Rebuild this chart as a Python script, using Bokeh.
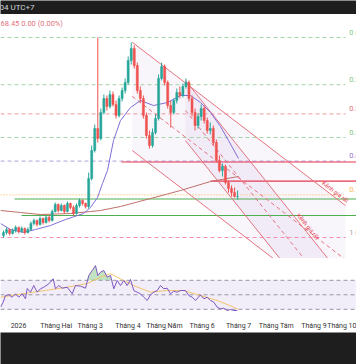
from bokeh.plotting import figure
from bokeh.layouts import column
from bokeh.models import Range1d, Label, FixedTicker, ColumnDataSource
from bokeh.embed import file_html
from bokeh.resources import INLINE
from bokeh.core.properties import value

# ---------------- data ----------------
# bar times in days from 1 Jan 2026 (one bar every 2.5 days)
bar_start = -12.3
bar_step = 2.5
opens = [48.95, 50.45, 51.95, 49.95, 51.45, 52.95, 50.95, 52.45, 50.45, 51.95,
         54.95, 56.45, 54.45, 57.45, 55.45, 57.95, 56.45, 60.95, 64.45, 61.45,
         63.95, 60.95, 64.95, 62.95, 59.95, 63.95, 66.45, 64.95, 63.45, 77.45,
         91.45, 102.45, 97.45, 110.45, 117.45, 113.45, 119.45, 114.45, 108.95, 117.45,
         121.45, 125.45, 136.45, 142.45, 133.95, 121.45, 117.45, 108.95, 98.95, 93.95,
         100.45, 107.45, 127.45, 133.45, 125.45, 113.95, 110.45, 116.45, 120.45, 118.95,
         123.45, 125.45, 117.45, 110.45, 103.95, 108.45, 112.45, 106.45, 101.45, 102.45,
         95.45, 86.45, 81.45, 83.45, 75.45, 72.45, 70.45, 68.45]
highs = [51.45, 52.95, 52.45, 52.45, 53.95, 53.45, 53.45, 52.95, 52.95, 55.95,
         57.45, 56.95, 58.45, 57.95, 58.95, 58.95, 61.95, 65.45, 64.95, 64.95,
         64.45, 65.95, 65.45, 63.95, 64.95, 67.45, 66.95, 65.45, 80.45, 93.95,
         104.45, 147.95, 112.45, 119.45, 118.95, 121.45, 120.95, 116.45, 118.95, 122.95,
         127.45, 138.45, 145.45, 143.95, 135.45, 123.45, 118.95, 110.45, 101.45, 102.45,
         109.45, 129.45, 135.45, 134.45, 126.45, 116.45, 117.45, 122.45, 123.45, 124.95,
         127.45, 126.45, 118.95, 112.45, 109.95, 114.45, 113.95, 107.95, 105.45, 103.95,
         96.95, 88.95, 84.95, 84.45, 76.45, 73.95, 72.95, 71.45]
lows = [47.95, 49.45, 48.95, 49.45, 50.45, 49.95, 50.45, 49.45, 49.95, 51.45,
        53.95, 53.45, 53.95, 54.45, 54.95, 55.45, 55.95, 60.45, 60.45, 60.95,
        59.95, 60.45, 61.95, 58.95, 59.45, 62.95, 63.95, 62.45, 62.45, 76.45,
        90.45, 95.45, 96.45, 109.45, 111.45, 112.45, 113.45, 107.45, 107.95, 115.95,
        119.95, 124.45, 134.45, 132.45, 119.95, 115.45, 107.45, 97.45, 92.45, 92.95,
        99.45, 106.45, 126.45, 123.95, 112.45, 102.95, 109.45, 114.95, 117.45, 117.95,
        122.45, 115.95, 108.45, 101.45, 102.45, 106.45, 104.95, 99.95, 99.45, 93.95,
        85.45, 80.45, 78.45, 74.45, 70.45, 68.45, 67.95, 66.95]
closes = [50.45, 51.95, 49.95, 51.45, 52.95, 50.95, 52.45, 50.45, 51.95, 54.95,
          56.45, 54.45, 57.45, 55.45, 57.95, 56.45, 60.95, 64.45, 61.45, 63.95,
          60.95, 64.95, 62.95, 59.95, 63.95, 66.45, 64.95, 63.45, 77.45, 91.45,
          102.45, 97.45, 110.45, 117.45, 113.45, 119.45, 114.45, 108.95, 117.45, 121.45,
          125.45, 136.45, 142.45, 133.95, 121.45, 117.45, 108.95, 98.95, 93.95, 100.45,
          107.45, 127.45, 133.45, 125.45, 113.95, 110.45, 116.45, 120.45, 118.95, 123.45,
          125.45, 117.45, 110.45, 103.95, 108.45, 112.45, 106.45, 101.45, 102.45, 95.45,
          86.45, 81.45, 83.45, 75.45, 72.45, 70.45, 68.45, 68.45]

# moving averages drawn on price
ma_fast_day = [-14.8, -6.58, 4.11, 13.98, 26.32, 38.65, 53.45, 59.21, 64.97, 69.08,
               73.19, 78.13, 83.88, 92.11, 100.33, 111.02, 122.53, 133.22, 141.45,
               149.67, 157.89, 166.12, 172.70, 180.92]
ma_fast = [54.95, 51.95, 50.45, 51.95, 53.95, 56.95, 59.95, 62.95, 67.95, 74.95,
           81.45, 96.45, 106.45, 112.95, 116.45, 113.95, 115.45, 118.95, 118.95,
           115.45, 110.45, 103.45, 96.45, 87.45]
ma_slow_day = [-14.8, 1.64, 18.09, 42.76, 59.21, 67.43, 83.88, 108.55, 133.22, 157.89, 180.92]
ma_slow = [61.45, 60.45, 59.45, 59.95, 60.95, 61.45, 63.45, 67.45, 71.45, 75.95, 78.45]

# Fibonacci retracement between swing high and swing low
fib_high = 147.95
fib_low = 47.95
fib_ratios = [0, 0.236, 0.382, 0.5, 0.618, 0.786, 1]
fib_names = ["0", "0.236", "0.382", "0.5", "0.618", "0.786", "1"]

# horizontal levels: (price, start day)
red_levels = [85.7, 76.1]
red_starts = [84.7, 157.9]
green_levels = [67.2, 58.95]
green_starts = [-3.3, 2.5]

# descending channel from the April top: upper edge, lower edge
chan_day = [93.5, 268.9]
chan_upper = [145.6, 63.95]
chan_lower = [91.45, 9.8]

# steeper channel from the June top
chan2_day = [137.3, 268.9]
chan2_upper = [126.45, 26.45]
chan2_lower = [96.45, -3.55]

# RSI
rsi_day = [-14.8, -12.58, -10.69, -7.98, -5.18, -2.47, 0.25, 3.04, 5.76, 7.15,
           9.87, 12.58, 15.38, 18.09, 20.81, 24.92, 28.54, 30.43, 33.14, 35.94,
           40.05, 44.16, 46.88, 50.99, 55.10, 57.81, 60.61, 63.32, 65.21, 67.43,
           70.15, 72.94, 75.66, 78.37, 81.17, 83.88, 86.60, 89.39, 92.11, 94.82,
           97.62, 100.33, 103.04, 105.84, 108.55, 111.27, 114.06, 116.78, 119.49, 122.29,
           125.0, 127.71, 130.51, 133.22, 137.34, 140.05, 142.85, 145.56, 149.67, 152.39,
           155.18, 157.89, 160.61, 163.40, 166.12, 168.83, 171.63, 174.34, 177.06, 179.85]
rsi = [32.9, 39.8, 49.0, 50.0, 46.7, 51.4, 46.7, 51.4, 44.5, 58.7,
       53.6, 62.8, 53.6, 58.3, 60.5, 65.2, 72.1, 58.3, 62.8, 59.1,
       60.5, 51.4, 62.8, 61.9, 59.1, 76.6, 83.5, 90.4, 76.6, 81.2,
       83.5, 74.3, 76.6, 58.3, 69.7, 62.8, 69.7, 62.8, 71.1, 55.9,
       53.6, 51.4, 46.7, 42.1, 50.0, 53.6, 55.9, 62.8, 58.3, 59.1,
       51.4, 55.0, 53.6, 55.9, 55.9, 49.0, 46.7, 42.1, 50.0, 44.5,
       46.7, 42.1, 39.8, 32.9, 30.7, 31.5, 28.3, 29.7, 28.3, 28.3]
rsi_ma_day = [-14.8, 12.34, 40.05, 56.50, 67.43, 75.66, 83.88, 94.57, 108.55,
              122.29, 135.94, 149.67, 163.40, 177.06, 180.92]
rsi_ma = [46.7, 53.6, 60.5, 65.6, 74.3, 79.0, 72.1, 62.8, 53.6, 55.9, 55.9, 49.0,
          42.1, 32.9, 29.7]

month_ticks = [0, 31, 59, 90, 120, 151, 181, 212, 243, 273]
month_labels = ["2026", "Tháng Hai", "Tháng 3", "Tháng 4", "Tháng Năm", "Tháng 6",
                "Tháng 7", "Tháng Tám", "Tháng 9", "Tháng 10"]

last_close = closes[-1]
prev_close = closes[-2]

# ---------------- styling ----------------
FONT = "Roboto"
DARK = "#1e1e1e"
UP = "#26a69a"
DOWN = "#ef5350"
DRAW = "#e57380"
X0, X1 = -14.8, 277.96
FIB_END = 268.9

fib_line_colors = ["#a5d6a7", "#a5d6a7", "#ef9a9a", "#a5d6a7", "#b39ddb", "#ffcc80", "#f48fb1"]
fib_text_colors = ["#81c784", "#81c784", "#e57373", "#81c784", "#9575cd", "#ffb74d", "#9e9e9e"]
fib_dash = ["4 3", "4 3", "4 3", "4 3", "4 3", "1 2", "4 3"]


def bare(fig):
    fig.grid.visible = False
    fig.outline_line_color = None
    fig.min_border = 0
    return fig


def mid(a, b):
    return [(u + v) / 2 for u, v in zip(a, b)]


# ---- top bar ----
top = bare(figure(width=356, height=14, x_range=Range1d(0, 1), y_range=Range1d(0, 1),
                  output_backend="svg", toolbar_location=None,
                  x_axis_location=None, y_axis_location=None,
                  background_fill_color=DARK, border_fill_color=DARK))
top.add_layout(Label(x=-1, y=7, x_units="screen", y_units="screen", text="04 UTC+7",
                     text_baseline="middle", text_color="#d1d4dc", text_font_size="8px",
                     text_font=FONT))

# ---- price panel ----
main = bare(figure(width=356, height=244, x_range=Range1d(X0, X1),
                   y_range=Range1d(37.45, 159.45), output_backend="svg",
                   toolbar_location=None, x_axis_location=None, y_axis_location=None,
                   background_fill_color="white", border_fill_color="white"))

# channel fills (clipped by the panel bottom)
for d, up, lo in ((chan_day, chan_upper, chan_lower), (chan2_day, chan2_upper, chan2_lower)):
    main.patch(x=[d[0], d[1], d[1], d[0]], y=[up[0], up[1], lo[1], lo[0]],
               fill_color="#9575cd", fill_alpha=0.07, line_color=None)

# fibonacci levels
for r, name, lc, tc, dash in zip(fib_ratios, fib_names, fib_line_colors, fib_text_colors, fib_dash):
    lvl = fib_high - r * (fib_high - fib_low)
    w = 1.6 if dash == "1 2" else 1
    main.segment(x0=X0, y0=lvl, x1=FIB_END, y1=lvl, line_color=lc, line_width=w, line_dash=dash)
    main.text(x=[FIB_END + 3], y=[lvl], text=[f"{name} ({lvl:.2f})"], text_color=tc,
              text_font=value(FONT), text_font_size="7.5px", text_baseline="bottom",
              y_offset=-1)

# horizontal support / resistance
for lvl, s in zip(red_levels, red_starts):
    main.segment(x0=s, y0=lvl, x1=X1, y1=lvl, line_color="#e53950", line_width=1.2)
for lvl, s in zip(green_levels, green_starts):
    main.segment(x0=s, y0=lvl, x1=X1, y1=lvl, line_color="#4caf50", line_width=1.2)

# channel edges and dashed middles
for d, up, lo in ((chan_day, chan_upper, chan_lower), (chan2_day, chan2_upper, chan2_lower)):
    main.line(d, up, line_color=DRAW, line_width=1)
    main.line(d, lo, line_color=DRAW, line_width=1)
    main.line(d, mid(up, lo), line_color=DRAW, line_width=1, line_dash="4 3")

# moving averages
main.line(ma_slow_day, ma_slow, line_color="#c0706a", line_width=1)
main.line(ma_fast_day, ma_fast, line_color="#7e6fd8", line_width=1)

# candles
times = [bar_start + bar_step * i for i in range(len(closes))]
colors = [UP if c >= o else DOWN for o, c in zip(opens, closes)]
src = ColumnDataSource(dict(t=times, o=opens, h=highs, l=lows, c=closes, col=colors,
                            top=[max(o, c) for o, c in zip(opens, closes)],
                            bot=[min(o, c) for o, c in zip(opens, closes)]))
main.segment(x0="t", y0="l", x1="t", y1="h", line_color="col", line_width=1, source=src)
main.vbar(x="t", width=1.7, top="top", bottom="bot", fill_color="col", line_color="col",
          line_width=0.5, source=src)

chg = last_close - prev_close
main.add_layout(Label(x=0, y=235, x_units="screen", y_units="screen",
                      text=f"{last_close:.2f}  {chg:.2f} ({chg / prev_close * 100:.2f}%)",
                      text_color="#e5737d", text_font_size="7.5px", text_font=FONT,
                      text_baseline="middle"))

# channel captions, written along their upper edges
main.text(x=[259.0, 236.0], y=[69.0, 51.95], text=["Kênh giá rất", "Kênh giá rất"],
          angle=[-0.653, -0.896], text_color="#e53950",
          text_font=value(FONT), text_font_size="6px", text_align="center",
          text_baseline="bottom", y_offset=-1)

# ---- RSI panel ----
osc = bare(figure(width=356, height=74, x_range=main.x_range, y_range=Range1d(17.3, 100.1),
                  output_backend="svg", toolbar_location=None, y_axis_location=None,
                  background_fill_color="white", border_fill_color="white"))
osc.min_border_bottom = 14
osc.varea(x=[X0, X1], y1=[30, 30], y2=[70, 70], fill_color="#7e57c2", fill_alpha=0.1)
for lvl in (30, 50, 70):
    osc.segment(x0=X0, y0=lvl, x1=X1, y1=lvl, line_color="#9893a8", line_width=1,
                line_dash="4 3")

# overbought shading
ob_x, ob_lo, ob_hi = [], [], []
for i in range(len(rsi) - 1):
    x0, x1, a, b = rsi_day[i], rsi_day[i + 1], rsi[i], rsi[i + 1]
    ob_x.append(x0)
    ob_lo.append(70)
    ob_hi.append(max(a, 70))
    if (a - 70) * (b - 70) < 0:
        xc = x0 + (70 - a) / (b - a) * (x1 - x0)
        ob_x.append(xc)
        ob_lo.append(70)
        ob_hi.append(70)
ob_x.append(rsi_day[-1]); ob_lo.append(70); ob_hi.append(max(rsi[-1], 70))
osc.varea(x=ob_x, y1=ob_lo, y2=ob_hi, fill_color="#4caf50", fill_alpha=0.35)

osc.line(rsi_ma_day, rsi_ma, line_color="#f2c46d", line_width=1)
osc.line(rsi_day, rsi, line_color="#7e57c2", line_width=1)

ax = osc.xaxis[0]
ax.ticker = FixedTicker(ticks=month_ticks)
ax.major_label_overrides = {t: lab for t, lab in zip(month_ticks, month_labels)}
ax.axis_line_color = None
ax.major_tick_line_color = None
ax.minor_tick_line_color = None
ax.major_tick_out = 0
ax.major_tick_in = 0
ax.minor_tick_out = 0
ax.major_label_text_font = FONT
ax.major_label_text_font_size = "7px"
ax.major_label_text_color = "#333333"
ax.major_label_standoff = 3

# ---- bottom bar ----
bottom = bare(figure(width=356, height=32, x_range=Range1d(0, 1), y_range=Range1d(0, 1),
                     output_backend="svg", toolbar_location=None,
                     x_axis_location=None, y_axis_location=None,
                     background_fill_color=DARK, border_fill_color=DARK))

layout = column(top, main, osc, bottom, spacing=0)
open("out.html", "w").write(file_html(layout, INLINE))
